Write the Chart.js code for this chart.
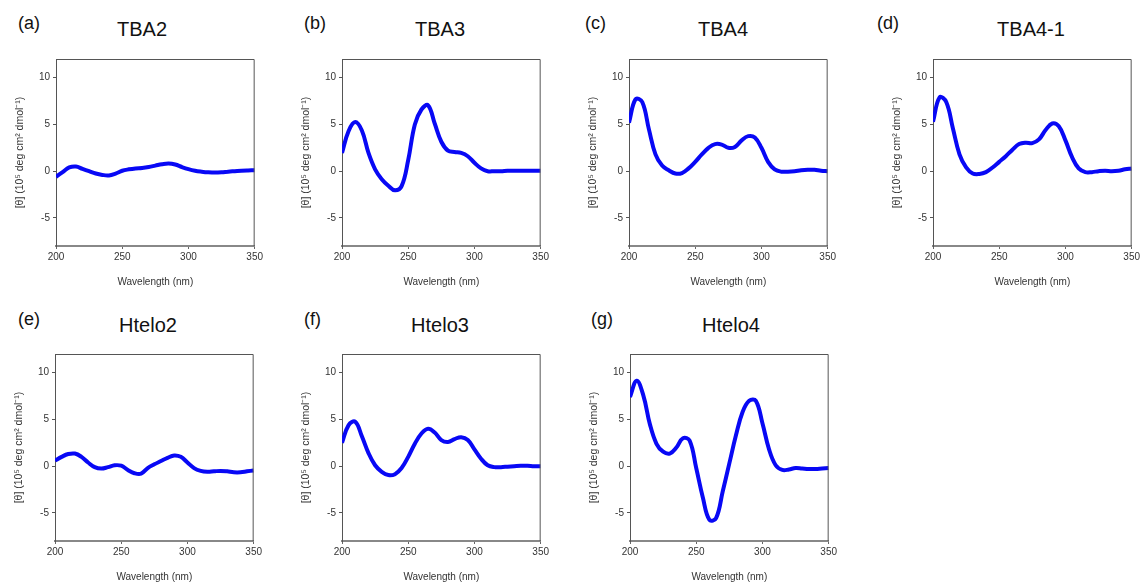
<!DOCTYPE html>
<html>
<head>
<meta charset="utf-8">
<script src="https://cdn.jsdelivr.net/npm/chart.js@4.4.1/dist/chart.umd.min.js"></script>
<style>
  body { margin: 0; background: #fff; width: 1141px; height: 583px; position: relative; overflow: hidden; font-family: "Liberation Sans", Arial, sans-serif; }
  canvas { position: absolute; }
  .lbl { position: absolute; font-size: 18px; color: #111; line-height: 1; }
  .ttl { position: absolute; font-size: 20px; color: #111; line-height: 1; transform: translateX(-50%); white-space: nowrap; }
</style>
</head>
<body>
<script>
// wavelength grid (nm)
const wavelengths = [200, 205, 210, 215, 220, 225, 230, 235, 240, 245, 250, 255, 260, 265, 270, 275,
                     280, 285, 290, 295, 300, 305, 310, 315, 320, 325, 330, 335, 340, 345, 350];

// [θ] (10^5 deg cm^2 dmol^-1)
const tba2   = [-0.6, -0.1, 0.4, 0.5, 0.25, 0.0, -0.25, -0.4, -0.45, -0.25, 0.05, 0.2, 0.3, 0.35, 0.45, 0.6,
                0.75, 0.83, 0.72, 0.45, 0.22, 0.05, -0.05, -0.12, -0.15, -0.12, -0.05, 0.0, 0.05, 0.08, 0.1];
const tba3   = [1.95, 4.3, 5.25, 4.35, 1.95, 0.2, -0.85, -1.55, -2.05, -1.6, 1.2, 5.0, 6.6, 7.05, 5.1, 3.15,
                2.2, 2.05, 1.95, 1.6, 0.9, 0.3, 0.0, 0.0, 0.0, 0.05, 0.05, 0.05, 0.05, 0.05, 0.05];
const tba4   = [5.2, 7.7, 7.4, 4.5, 1.8, 0.6, 0.1, -0.25, -0.2, 0.3, 1.0, 1.8, 2.5, 2.9, 2.85, 2.5,
                2.6, 3.3, 3.75, 3.6, 2.5, 1.0, 0.2, -0.05, -0.05, 0.0, 0.1, 0.15, 0.15, 0.05, 0.0];
const tba41  = [5.3, 7.9, 7.4, 4.6, 1.8, 0.4, -0.25, -0.3, -0.1, 0.4, 1.0, 1.6, 2.3, 2.9, 3.05, 3.0,
                3.4, 4.4, 5.1, 4.8, 3.3, 1.5, 0.3, -0.1, -0.1, 0.0, 0.05, 0.0, 0.05, 0.2, 0.3];
const htelo2 = [0.6, 1.0, 1.3, 1.35, 1.0, 0.4, -0.1, -0.25, -0.1, 0.1, 0.05, -0.4, -0.75, -0.8, -0.2, 0.2,
                0.55, 0.9, 1.15, 1.0, 0.4, -0.2, -0.5, -0.6, -0.55, -0.5, -0.55, -0.65, -0.65, -0.55, -0.45];
const htelo3 = [2.5, 4.4, 4.75, 3.2, 1.4, 0.1, -0.6, -0.95, -0.85, -0.2, 1.0, 2.4, 3.5, 4.0, 3.6, 2.8,
                2.6, 2.9, 3.1, 2.8, 1.8, 0.8, 0.1, -0.1, -0.1, -0.05, 0.0, 0.05, 0.05, 0.0, 0.0];
const htelo4 = [7.4, 9.15, 7.6, 4.5, 2.4, 1.55, 1.35, 2.0, 3.0, 2.75, -0.2, -3.35, -5.75, -5.55, -2.7, 0.3,
                3.3, 5.8, 7.0, 7.0, 4.6, 1.8, 0.1, -0.4, -0.35, -0.2, -0.25, -0.3, -0.3, -0.25, -0.2];

const panelNames  = ['TBA2', 'TBA3', 'TBA4', 'TBA4-1', 'Htelo2', 'Htelo3', 'Htelo4'];
const panelTags   = ['(a)', '(b)', '(c)', '(d)', '(e)', '(f)', '(g)'];
const panelSeries = [tba2, tba3, tba4, tba41, htelo2, htelo3, htelo4];

const yTicks = [-5, 0, 5, 10];

// layout: plot-area boxes and text spots
const plotBoxes = [
  [56, 54], [342, 54], [629, 54], [933, 54],
  [55, 349], [342, 349], [630, 349]
];
const plotW = 199, plotH = 192;
const tagSpots   = [[18, 14], [304, 14], [585, 14], [877, 14], [18, 310], [304, 310], [591, 310]];
const titleSpots = [[142, 19], [440, 19], [723, 19], [1031, 19], [148, 315], [440, 315], [731, 315]];

const AXIS_W = 46, AXIS_H = 46, PAD_TOP = 4, PAD_RIGHT = 10;

const framePlugin = {
  id: 'frame',
  afterDraw(chart) {
    const { ctx, chartArea: a } = chart;
    ctx.save();
    ctx.strokeStyle = '#555';
    ctx.lineWidth = 1;
    ctx.beginPath();
    ctx.moveTo(a.left, a.top + 0.5);
    ctx.lineTo(a.right - 0.5, a.top + 0.5);
    ctx.lineTo(a.right - 0.5, a.bottom);
    ctx.stroke();
    ctx.restore();
  }
};

panelSeries.forEach((values, i) => {
  const [px, py] = plotBoxes[i];

  const tag = document.createElement('div');
  tag.className = 'lbl';
  tag.textContent = panelTags[i];
  tag.style.left = tagSpots[i][0] + 'px';
  tag.style.top = tagSpots[i][1] + 'px';
  document.body.appendChild(tag);

  const ttl = document.createElement('div');
  ttl.className = 'ttl';
  ttl.textContent = panelNames[i];
  ttl.style.left = titleSpots[i][0] + 'px';
  ttl.style.top = titleSpots[i][1] + 'px';
  document.body.appendChild(ttl);

  const canvas = document.createElement('canvas');
  canvas.width = AXIS_W + plotW + PAD_RIGHT;
  canvas.height = PAD_TOP + plotH + AXIS_H;
  canvas.style.left = (px - AXIS_W) + 'px';
  canvas.style.top = (py - PAD_TOP) + 'px';
  document.body.appendChild(canvas);

  new Chart(canvas, {
    type: 'line',
    data: {
      datasets: [{
        data: wavelengths.map((w, k) => ({ x: w, y: values[k] })),
        borderColor: '#0808f5',
        borderWidth: 4,
        pointRadius: 0,
        tension: 0.4,
        fill: false
      }]
    },
    options: {
      responsive: false,
      animation: false,
      layout: { padding: { left: 0, right: PAD_RIGHT, top: PAD_TOP, bottom: 0 } },
      plugins: { legend: { display: false }, tooltip: { enabled: false } },
      scales: {
        x: {
          type: 'linear',
          min: 200, max: 350,
          afterFit: s => { s.height = AXIS_H; },
          ticks: { stepSize: 50, color: '#333', font: { family: 'Liberation Sans', size: 10 }, padding: 2, maxRotation: 0 },
          grid: { drawOnChartArea: false, drawTicks: true, tickLength: 3, color: '#666' },
          border: { color: '#888', width: 2 },
          title: { display: true, text: 'Wavelength (nm)', color: '#333', font: { family: 'Liberation Sans', size: 10 } }
        },
        y: {
          min: -8, max: 12,
          afterFit: s => { s.width = AXIS_W; },
          afterBuildTicks: s => { s.ticks = yTicks.map(v => ({ value: v })); },
          ticks: { color: '#333', font: { family: 'Liberation Sans', size: 10 }, padding: 3 },
          grid: { drawOnChartArea: false, drawTicks: true, tickLength: 3, color: '#555' },
          border: { color: '#555', width: 1 },
          title: { display: true, text: '[θ] (10⁵ deg cm² dmol⁻¹)', color: '#333', font: { family: 'Liberation Sans', size: 10.5 } }
        }
      }
    },
    plugins: [framePlugin]
  });
});
</script>
</body>
</html>
